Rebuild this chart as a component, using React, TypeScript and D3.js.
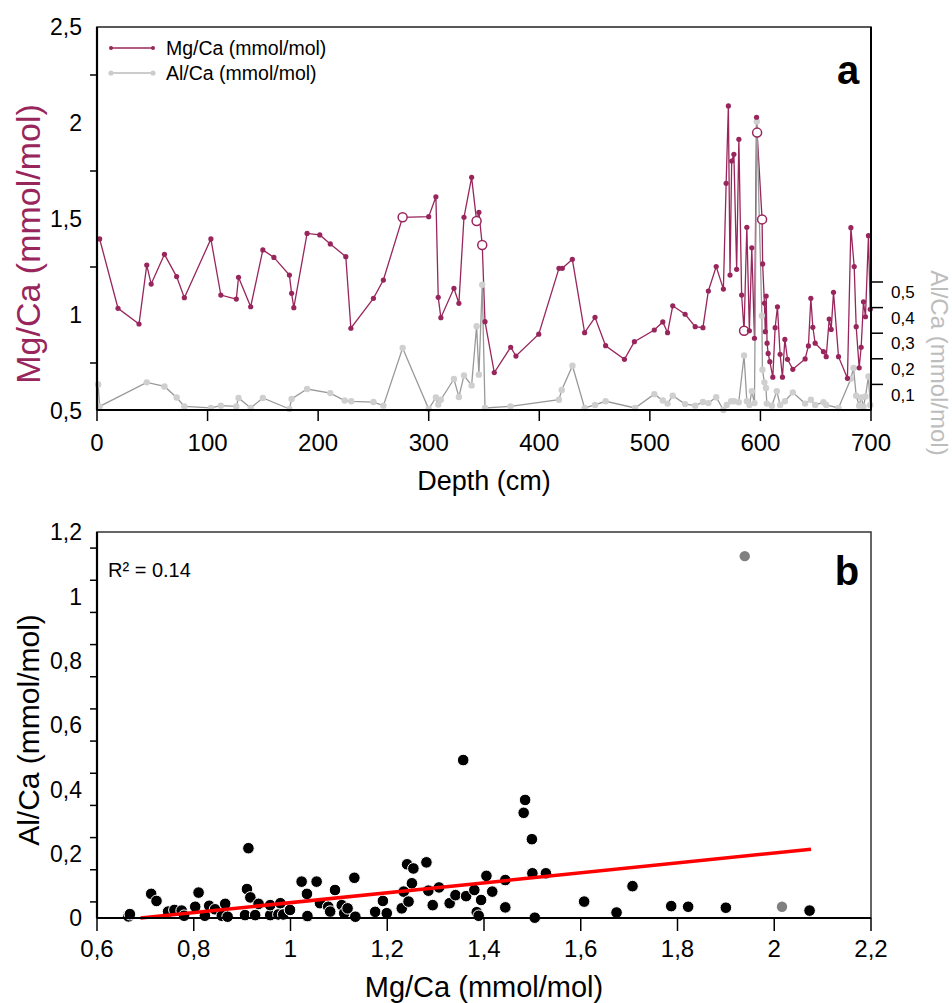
import React from 'react';
import * as d3 from 'd3';

// ---- panel a : Mg/Ca down core ----
const mgDepth = [
  2.4, 19, 38, 45, 49, 61, 72, 79, 103, 112, 126, 128, 139, 150, 160, 174, 176, 178, 190, 201.5,
  211, 225, 229.6, 250, 259, 276.4, 300, 306.5, 308.6, 311, 322.8, 327.3, 331.9, 338.8, 343.3, 345.4,
  348.4, 350.9, 359.3, 374.1, 378.9, 399.5, 417.8, 420.8, 429.9, 441, 450.4, 460, 477, 486, 504,
  511.7, 516, 520.7, 531.9, 541, 548, 552.9, 560, 566.5, 569, 571, 572.5, 574, 576, 578.5, 580.5,
  583, 585.2, 587.7, 590, 592.2, 594.6, 596.5, 597, 601.5, 602, 603.6, 604.4, 605.2, 606, 607,
  608.5, 611.2, 613.3, 615.4, 617.8, 619.9, 622.1, 624.5, 629.3, 640.4, 643.4, 645.6, 647.4, 649.5,
  657, 659.5, 662.2, 664, 666.1, 670.6, 678.7, 681.8, 684.8, 686.6, 689.3, 691.1, 693.2, 695,
  697.7, 699.3,
];
const mgValue = [
  1.396, 1.035, 0.953, 1.26, 1.161, 1.316, 1.2, 1.09, 1.396, 1.104, 1.083, 1.196, 1.043, 1.339, 1.3,
  1.208, 1.113, 1.038, 1.425, 1.417, 1.37, 1.304, 0.931, 1.087, 1.182, 1.509, 1.512, 1.616, 1.092,
  0.986, 1.139, 1.061, 1.509, 1.717, 1.49, 1.535, 1.365, 0.965, 0.7, 0.832, 0.786, 0.9, 1.243, 1.243,
  1.29, 0.908, 0.988, 0.84, 0.769, 0.861, 0.922, 0.964, 0.908, 1.048, 1.004, 0.939, 0.934, 1.125,
  1.252, 1.135, 1.686, 2.089, 1.208, 1.802, 1.837, 1.238, 1.915, 1.104, 0.918, 1.457, 0.918, 1.35,
  0.879, 2.03, 1.95, 1.498, 1.266, 1.061, 0.913, 1.099, 0.853, 0.8, 0.757, 0.676, 0.934, 1.043,
  0.795, 0.676, 0.873, 0.769, 0.717, 0.771, 0.839, 1.087, 0.936, 0.853, 0.809, 0.783, 0.979, 0.925,
  1.118, 0.783, 0.67, 1.455, 1.252, 0.939, 0.725, 0.832, 1.069, 0.991, 1.413, 1.03,
];
// samples drawn as open circles
const mgOpen = [276.4, 343.3, 348.4, 585.2, 597, 601.5];

// ---- panel a : Al/Ca down core ----
const alDepth = [
  1, 2.4, 45, 61, 72, 79, 103, 112, 126, 128, 139, 150, 174, 176, 190, 211, 224, 230, 250, 259,
  276.4, 300, 306.5, 308.6, 311, 322.8, 327.3, 331.9, 338.8, 343.3, 345.4, 348.4, 350.9, 374,
  417.8, 420.3, 430, 441, 450.4, 460, 486.6, 504, 511.7, 516, 520.7, 531.9, 541, 548, 552.9, 560,
  566.5, 569.5, 573.5, 576.2, 580.4, 585.2, 587.7, 590, 592.2, 594.6, 596.7, 601.3, 601.8, 603.6,
  605, 605.8, 610.3, 614.8, 617.8, 622.1, 629.3, 640.4, 645.6, 649.5, 657, 659.5, 670.6, 681.8,
  684.2, 686.6, 689.3, 691.1, 693.2, 695, 697.7, 699.3,
];
const alValue = [
  0.1, 0.014, 0.108, 0.092, 0.049, 0.014, 0.008, 0.017, 0.014, 0.047, 0.008, 0.047, 0.004, 0.043,
  0.082, 0.066, 0.037, 0.034, 0.031, 0.017, 0.242, 0.004, 0.049, 0.021, 0.04, 0.121, 0.051, 0.135,
  0.096, 0.327, 0.138, 0.489, 0.008, 0.014, 0.04, 0.078, 0.173, 0.008, 0.02, 0.034, 0.008, 0.062,
  0.037, 0.025, 0.056, 0.023, 0.017, 0.031, 0.027, 0.05, 0.0, 0.02, 0.034, 0.034, 0.03, 0.213,
  0.034, 0.02, 0.073, 0.027, 1.127, 0.368, 0.157, 0.108, 0.086, 0.025, 0.017, 0.073, 0.02, 0.034,
  0.069, 0.025, 0.04, 0.02, 0.03, 0.02, 0.008, 0.122, 0.164, 0.056, 0.017, 0.049, 0.014, 0.053,
  0.131, 0.02,
];

// ---- panel b : Al/Ca vs Mg/Ca ----
const scatterMg = [
  0.665, 0.668, 0.712, 0.723, 0.747, 0.76, 0.775, 0.78, 0.803, 0.81, 0.823, 0.832, 0.844, 0.858,
  0.865, 0.87, 0.906, 0.91, 0.913, 0.917, 0.927, 0.934, 0.958, 0.958, 0.975, 0.979, 0.985, 0.999,
  1.023, 1.034, 1.035, 1.054, 1.061, 1.078, 1.082, 1.092, 1.106, 1.111, 1.118, 1.132, 1.134, 1.175,
  1.191, 1.199, 1.23, 1.234, 1.241, 1.244, 1.251, 1.254, 1.281, 1.285, 1.294, 1.307, 1.329, 1.341,
  1.357, 1.363, 1.38, 1.385, 1.389, 1.394, 1.405, 1.417, 1.444, 1.444, 1.482, 1.485, 1.499, 1.5,
  1.505, 1.528, 1.607, 1.674, 1.707, 1.787, 1.822, 1.9, 2.073,
];
const scatterAl = [
  0.005, 0.012, 0.075, 0.053, 0.02, 0.025, 0.023, 0.007, 0.035, 0.079, 0.007, 0.038, 0.027, 0.007,
  0.044, 0.004, 0.009, 0.09, 0.217, 0.064, 0.009, 0.044, 0.009, 0.04, 0.011, 0.046, 0.011, 0.025,
  0.113, 0.075, 0.006, 0.113, 0.046, 0.035, 0.02, 0.087, 0.04, 0.015, 0.03, 0.125, 0.004, 0.019,
  0.053, 0.015, 0.03, 0.082, 0.167, 0.051, 0.108, 0.154, 0.173, 0.085, 0.04, 0.095, 0.046, 0.071,
  0.491, 0.068, 0.087, 0.018, 0.007, 0.056, 0.131, 0.082, 0.118, 0.033, 0.327, 0.367, 0.245, 0.139,
  0.001, 0.139, 0.051, 0.017, 0.099, 0.037, 0.035, 0.032, 0.023,
];
// excluded points (grey)
const outlierMg = [1.939, 2.016];
const outlierAl = [1.125, 0.035];
// regression line end points
const fitMg = [0.69, 2.076];
const fitAl = [0.0, 0.2136];

// tick values / labels
const depthTicks = [0, 100, 200, 300, 400, 500, 600, 700];
const mgLabels = [0.5, 1, 1.5, 2, 2.5];
const mgTicks = [0.75, 1.25, 1.75, 2.25];
const alRightTicks = [0.1, 0.2, 0.3, 0.4, 0.5];
const bXTicks = [0.6, 0.8, 1, 1.2, 1.4, 1.6, 1.8, 2, 2.2];
const bYLabels = [0, 0.2, 0.4, 0.6, 0.8, 1, 1.2];
const bYTicks = [0.05, 0.15, 0.25, 0.35, 0.45, 0.55, 0.65, 0.75, 0.85, 0.95, 1.05, 1.15];

const PURPLE = '#98265c';
const FONT = '"Liberation Sans", Arial, sans-serif';

const comma = (v: number) => String(v).replace('.', ',');

const App = () => {
  const width = 952;
  const height = 1003;

  // panel a scales
  const xDepth = d3.scaleLinear().domain([0, 700]).range([97, 871]);
  const yMg = d3.scaleLinear().domain([0.5, 2.5]).range([411, 27]);
  const yAl = d3.scaleLinear().domain([0, 1]).range([410, 154]);

  // panel b scales
  const xB = d3.scaleLinear().domain([0.6, 2.2]).range([97, 871]);
  const yB = d3.scaleLinear().domain([0, 1.2]).range([918, 532]);

  const mgPts = mgDepth.map((d, i) => ({ d, v: mgValue[i] }));
  const alPts = alDepth.map((d, i) => ({ d, v: alValue[i] }));

  const mgLine = d3.line<any>().x(p => xDepth(p.d)).y(p => yMg(p.v));
  const alLine = d3.line<any>().x(p => xDepth(p.d)).y(p => yAl(p.v));

  const aTop = yMg(2.5);
  const aBot = yMg(0.5) - 1;

  return (
    <svg width={width} height={height} style={{ position: 'absolute', left: 0, top: 0, background: '#fff' }} fontFamily={FONT}>
      {/* ================= panel a ================= */}
      <rect x={xDepth(0)} y={aTop} width={xDepth(700) - xDepth(0)} height={aBot - aTop} fill="none" stroke="#222" strokeWidth={1.5} />

      {/* series lines */}
      <path d={mgLine(mgPts) || ''} fill="none" stroke={PURPLE} strokeWidth={1.3} />
      <path d={alLine(alPts) || ''} fill="none" stroke="#999" strokeWidth={1.3} />

      {alPts.map((p, i) => (
        <circle key={'al' + i} cx={xDepth(p.d)} cy={yAl(p.v)} r={3.2} fill="#cfcfcf" />
      ))}
      {mgPts.map((p, i) =>
        mgOpen.includes(p.d) ? (
          <circle key={'mg' + i} cx={xDepth(p.d)} cy={yMg(p.v)} r={4.5} fill="#fff" stroke={PURPLE} strokeWidth={1.5} />
        ) : (
          <circle key={'mg' + i} cx={xDepth(p.d)} cy={yMg(p.v)} r={2.6} fill={PURPLE} />
        )
      )}

      {/* axes */}
      <line x1={xDepth(0)} x2={xDepth(0)} y1={aTop} y2={aBot} stroke="#000" strokeWidth={2.2} />
      <line x1={xDepth(0)} x2={xDepth(700)} y1={aBot} y2={aBot} stroke="#000" strokeWidth={2.2} />
      <line x1={xDepth(700)} x2={xDepth(700)} y1={aTop} y2={aBot} stroke="#000" strokeWidth={2} />

      {mgTicks.map(t => (
        <line key={'mt' + t} x1={xDepth(0) - 7} x2={xDepth(0)} y1={yMg(t)} y2={yMg(t)} stroke="#000" strokeWidth={1.5} />
      ))}
      {mgLabels.map(t => (
        <text key={'ml' + t} x={82} y={yMg(t)} dy="0.36em" textAnchor="end" fontSize={23}>{comma(t)}</text>
      ))}
      {depthTicks.map(t => (
        <g key={'dt' + t}>
          <line x1={xDepth(t)} x2={xDepth(t)} y1={aBot} y2={aBot + 11} stroke="#000" strokeWidth={1.5} />
          <text x={xDepth(t)} y={451} textAnchor="middle" fontSize={24}>{t}</text>
        </g>
      ))}
      <text x={(xDepth(0) + xDepth(700)) / 2} y={490} textAnchor="middle" fontSize={27}>Depth (cm)</text>

      {alRightTicks.map(t => (
        <g key={'ar' + t}>
          <line x1={xDepth(700)} x2={xDepth(700) + 12} y1={yAl(t)} y2={yAl(t)} stroke="#000" strokeWidth={1.5} />
          <text x={891} y={yAl(t) + 10} dy="0.36em" fontSize={17}>{comma(t)}</text>
        </g>
      ))}
      <text transform="translate(940,363) rotate(90)" textAnchor="middle" dy="0.36em" fontSize={24} fill="#bdbdbd">Al/Ca (mmol/mol)</text>
      <text transform="translate(28,244) rotate(-90)" textAnchor="middle" dy="0.36em" fontSize={34} fill={PURPLE}>Mg/Ca (mmol/mol)</text>

      {/* legend */}
      <line x1={110} x2={153} y1={48} y2={48} stroke={PURPLE} strokeWidth={1.3} />
      <circle cx={111} cy={48} r={2} fill={PURPLE} />
      <circle cx={153} cy={48} r={2} fill={PURPLE} />
      <text x={166} y={48} dy="0.36em" fontSize={19.5}>Mg/Ca (mmol/mol)</text>
      <line x1={110} x2={153} y1={73} y2={73} stroke="#bbb" strokeWidth={1.3} />
      <circle cx={111} cy={73} r={2.6} fill="#ccc" />
      <circle cx={153} cy={73} r={2.6} fill="#ccc" />
      <text x={166} y={73} dy="0.36em" fontSize={19.5}>Al/Ca (mmol/mol)</text>

      <text x={848} y={70} dy="0.36em" textAnchor="middle" fontSize={40} fontWeight="bold">a</text>

      {/* ================= panel b ================= */}
      <rect x={xB(0.6)} y={yB(1.2)} width={xB(2.2) - xB(0.6)} height={yB(0) - yB(1.2)} fill="none" stroke="#333" strokeWidth={1.5} />

      {scatterMg.map((m, i) => (
        <circle key={'s' + i} cx={xB(m)} cy={yB(scatterAl[i])} r={5.8} fill="#000" stroke="#fff" strokeWidth={1} />
      ))}
      {outlierMg.map((m, i) => (
        <circle key={'o' + i} cx={xB(m)} cy={yB(outlierAl[i])} r={5.2} fill="#808080" />
      ))}
      <line x1={xB(fitMg[0])} x2={xB(fitMg[1])} y1={yB(fitAl[0])} y2={yB(fitAl[1])} stroke="#f00" strokeWidth={3.5} />

      <line x1={xB(0.6)} x2={xB(0.6)} y1={yB(1.2)} y2={yB(0)} stroke="#000" strokeWidth={2.2} />
      <line x1={xB(0.6)} x2={xB(2.2)} y1={yB(0)} y2={yB(0)} stroke="#000" strokeWidth={2.2} />

      {bYTicks.map(t => (
        <line key={'by' + t} x1={xB(0.6) - 7} x2={xB(0.6)} y1={yB(t)} y2={yB(t)} stroke="#000" strokeWidth={1.5} />
      ))}
      {bYLabels.map(t => (
        <text key={'bl' + t} x={82} y={yB(t)} dy="0.36em" textAnchor="end" fontSize={23}>{comma(t)}</text>
      ))}
      {bXTicks.map(t => (
        <g key={'bx' + t}>
          <line x1={xB(t)} x2={xB(t)} y1={yB(0)} y2={yB(0) + 13} stroke="#000" strokeWidth={1.5} />
          <text x={xB(t)} y={957} textAnchor="middle" fontSize={24}>{comma(t)}</text>
        </g>
      ))}
      <text x={(xB(0.6) + xB(2.2)) / 2} y={997} textAnchor="middle" fontSize={29}>Mg/Ca (mmol/mol)</text>
      <text transform="translate(28,730) rotate(-90)" textAnchor="middle" dy="0.36em" fontSize={30}>Al/Ca (mmol/mol)</text>

      <text x={108} y={570} dy="0.36em" fontSize={20}>R² = 0.14</text>
      <text x={847} y={571} dy="0.36em" textAnchor="middle" fontSize={40} fontWeight="bold">b</text>
    </svg>
  );
};

export default App;
